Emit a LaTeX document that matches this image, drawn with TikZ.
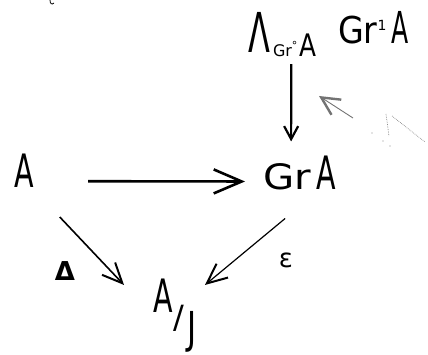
\documentclass[tikz,border=0pt]{standalone}
\usepackage{fontspec}
\setmainfont{DejaVu Sans}
\usetikzlibrary{arrows.meta,calc}
\newcommand\myfs[1]{\fontsize{#1}{#1}\selectfont}
\newcommand\hwx[2]{\scalebox{#1}[1]{#2}}
\begin{document}
\begin{tikzpicture}[x=1pt,y=-1pt,
  lbl/.style={inner sep=0pt,outer sep=0pt},
  bigarr/.style={line width=2.6pt,-{Straight Barb[length=28pt,width=24pt,line width=2.6pt]}},
  smallarr/.style={line width=2.2pt,-{Straight Barb[length=13pt,width=14pt,line width=2.2pt]}},
  diagarr/.style={line width=1.6pt,-{Straight Barb[length=20pt,width=18pt,line width=2pt]}},
  faintarr/.style={line width=0.9pt,black!55,-{Straight Barb[length=18pt,width=18pt,line width=2.4pt]}},
  faint/.style={line width=0.7pt,black!45,densely dotted}]
\useasboundingbox (0,0) rectangle (428,355);
% nodes
\node[lbl,anchor=base west] (lam) at (248,53) {\myfs{55}\hwx{0.58}{Λ}};
\node[lbl,anchor=base west] (sub) at (273,57) {\myfs{16}Gr\raisebox{7pt}{\myfs{11}°}\hspace{2pt}\myfs{31}\hwx{0.8}{A}};
\node[lbl,anchor=base west] (gr1) at (338,44) {\myfs{37}\hwx{0.9}{Gr}\raisebox{13pt}{\myfs{14}1}\hspace{5pt}\myfs{44}\hwx{0.57}{A}};
\node[lbl,anchor=base west] (A) at (14,188) {\myfs{46}\hwx{0.62}{A}};
\node[lbl,anchor=base west] (gra) at (263,190) {\myfs{35}\hwx{1.15}{Gr}\hspace{6pt}\myfs{46}\hwx{0.62}{A}};
\node[lbl,anchor=base west] (aj) at (153,312) {\myfs{46}\hwx{0.62}{A}\hspace{1pt}\raisebox{-16pt}{\myfs{32}/}\hspace{3pt}\raisebox{-31pt}{\myfs{44}\hwx{0.7}{J}}};
\node[lbl] (delta) at (65,271) {\myfs{26}\textbf{Δ}};
\node[lbl] (eps) at (286,260) {\myfs{26}ε};
% connectors
\draw[smallarr] ($(sub.south)+(-3.5,7)$) -- ($(gra.north)+(-8.5,-15)$);
\draw[bigarr] ($(A.east)+(54.5,10)$) -- ($(gra.west)+(-18,8)$);
\draw[diagarr] ($(A.south)+(36,29)$) -- ($(aj.north west)+(-29,6.5)$);
\draw[diagarr,line width=1.2pt] ($(gra.south)+(-14.5,28)$) -- ($(aj.north west)+(52,6.5)$);
% faint marks
\coordinate (ft) at (353,118);
\coordinate (fh) at (319,96);
\draw[faintarr] (ft) -- (fh);
\draw[faint] (386,114) -- (389,136);
\draw[faint] (392,116) -- (425,142);
\fill[black!45] (372,133) circle (0.7) (383,141) circle (0.7) (390,146) circle (0.7);
\draw[line width=0.8pt] (50,0) .. controls (50,4) and (52,5) .. (54,3);
\end{tikzpicture}
\end{document}
